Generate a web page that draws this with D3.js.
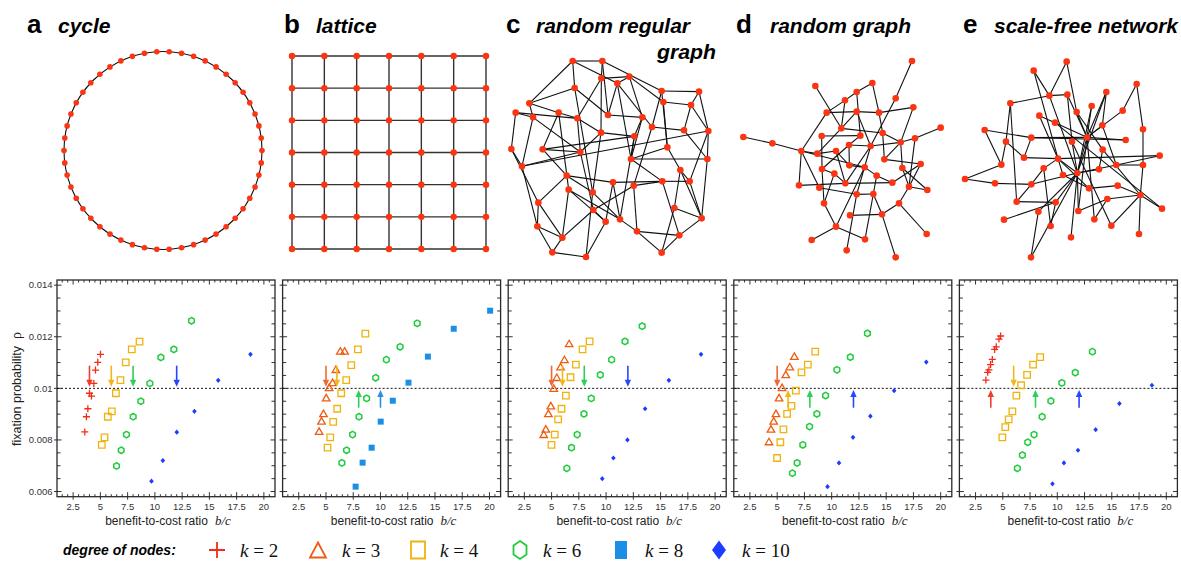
<!DOCTYPE html>
<html><head><meta charset="utf-8">
<script src="https://cdn.jsdelivr.net/npm/d3@7"></script>
<style>body{margin:0;background:#fff}svg{display:block}</style>
</head><body><svg id="chart" width="1181" height="562"></svg>
<script>
// ---------------- DATA ----------------
const panelLetters = ["a","b","c","d","e"];
const panelNames = ["cycle","lattice","random regular","random graph","scale-free network"];
const xTicks = [2.5,5,7.5,10,12.5,15,17.5,20];
const xTickLabels = ["2.5","5","7.5","10","12.5","15","17.5","20"];
const yTicks = [0.006,0.008,0.01,0.012,0.014];
const yTickLabels = ["0.006","0.008","0.01","0.012","0.014"];
const legendKeys = ["k2","k3","k4","k6","k8","k10"];
const legendLabels = ["2","3","4","6","8","10"];

// fixation probability vs b/c, per panel and degree k
const cycle_k2 = [[5.01,0.01132],[4.76,0.01101],[4.55,0.01071],[4.40,0.01019],[4.0,0.00981],[4.18,0.00970],[3.85,0.00921],[3.72,0.00890],[3.57,0.00831]];
const cycle_k4 = [[8.59,0.01181],[7.88,0.01151],[7.33,0.01101],[6.84,0.01032],[6.42,0.00981],[6.05,0.00911],[5.68,0.00890],[5.38,0.00810],[5.13,0.00781]];
const cycle_k6 = [[13.36,0.01262],[11.74,0.01151],[10.55,0.01120],[9.54,0.01019],[8.71,0.00950],[8.01,0.00890],[7.39,0.00821],[6.91,0.00760],[6.48,0.00699]];
const cycle_k10 = [[18.77,0.01132],[15.81,0.01031],[13.63,0.00911],[12.01,0.00830],[10.73,0.00720],[9.69,0.00640]];

const lattice_k3 = [[6.31,0.01145],[6.71,0.01145],[5.91,0.01074],[5.60,0.01023],[5.29,0.01004],[5.02,0.00964],[4.77,0.00903],[4.59,0.00874],[4.37,0.00834]];
const lattice_k4 = [[8.61,0.01212],[7.93,0.01151],[7.32,0.01090],[6.86,0.01032],[6.40,0.00981],[6.03,0.00921],[5.66,0.00870],[5.39,0.00810],[5.14,0.00770]];
const lattice_k6 = [[13.37,0.01252],[11.80,0.01161],[10.54,0.01111],[9.56,0.01041],[8.73,0.00961],[8.03,0.00890],[7.44,0.00821],[6.89,0.00760],[6.46,0.00711]];
const lattice_k8 = [[20.06,0.01301],[16.72,0.01231],[14.35,0.01123],[12.57,0.01022],[11.13,0.00952],[10.02,0.00871],[9.19,0.00770],[8.36,0.00712],[7.72,0.00619]];

const rrg_k3 = [[6.61,0.01174],[6.18,0.01112],[5.82,0.01084],[5.48,0.01043],[5.20,0.01001],[4.93,0.00933],[4.71,0.00903],[4.47,0.00843],[4.28,0.00822]];
const rrg_k4 = [[8.49,0.01182],[7.84,0.01151],[7.23,0.01092],[6.74,0.01043],[6.31,0.00972],[5.91,0.00921],[5.60,0.00880],[5.29,0.00821],[4.99,0.00781]];
const rrg_k6 = [[13.31,0.01241],[11.74,0.01182],[10.51,0.01111],[9.47,0.01052],[8.64,0.00961],[7.97,0.00901],[7.35,0.00821],[6.83,0.00770],[6.40,0.00690]];
const rrg_k10 = [[18.71,0.01132],[15.76,0.01031],[13.58,0.00921],[11.96,0.00800],[10.67,0.00730],[9.65,0.00650]];

const rg_k3 = [[6.58,0.01125],[6.15,0.01084],[5.79,0.01054],[5.45,0.01004],[5.17,0.00964],[4.89,0.00903],[4.68,0.00874],[4.43,0.00843],[4.25,0.00794]];
const rg_k4 = [[8.49,0.01142],[7.81,0.01092],[7.23,0.01062],[6.71,0.00991],[6.31,0.00932],[5.91,0.00901],[5.57,0.00841],[5.29,0.00791],[4.99,0.00730]];
const rg_k6 = [[13.28,0.01213],[11.71,0.01121],[10.48,0.01072],[9.44,0.00972],[8.64,0.00901],[7.97,0.00852],[7.35,0.00781],[6.83,0.00711],[6.40,0.00671]];
const rg_k10 = [[18.68,0.01102],[15.73,0.00991],[13.55,0.00892],[11.96,0.00810],[10.67,0.00711],[9.62,0.00619]];

const sf_k2 = [[4.80,0.01203],[4.65,0.01191],[4.40,0.01161],[4.25,0.01151],[4.04,0.01112],[3.88,0.01092],[3.73,0.01072],[3.61,0.01062],[3.45,0.01032]];
const sf_k4 = [[8.43,0.01121],[7.78,0.01092],[7.23,0.01052],[6.68,0.01012],[6.25,0.00972],[5.88,0.00911],[5.54,0.00880],[5.23,0.00850],[4.96,0.00810]];
const sf_k6 = [[13.22,0.01142],[11.65,0.01061],[10.42,0.01021],[9.41,0.00951],[8.61,0.00890],[7.87,0.00821],[7.29,0.00791],[6.80,0.00741],[6.34,0.00690]];
const sf_k10 = [[18.68,0.01012],[15.70,0.00941],[13.52,0.00840],[11.90,0.00760],[10.61,0.00711],[9.56,0.00630]];

// critical b/c arrows: [b/c, direction, series]
const cycle_arrows = [[4,"down","k2"],[6,"down","k4"],[8,"down","k6"],[12,"down","k10"]];
const lattice_arrows = [[5,"down","k3"],[6,"down","k4"],[8,"up","k6"],[10,"up","k8"]];
const rrg_arrows = [[5,"down","k3"],[6,"down","k4"],[8,"down","k6"],[12,"down","k10"]];
const rg_arrows = [[5,"down","k3"],[6,"up","k4"],[8,"up","k6"],[12,"up","k10"]];
const sf_arrows = [[3.9,"up","k2"],[6,"down","k4"],[8,"up","k6"],[12,"up","k10"]];

// network drawings (layout units)
const cycleN = 50;
const latticeN = 7;
const rrgNodes = [[233,3],[322,3],[319,55],[403,50],[367,70],[239,84],[500,93],[612,95],[505,126],[588,135],[103,130],[62,158],[114,172],[191,158],[247,175],[339,165],[442,172],[471,201],[567,211],[640,213],[318,218],[418,229],[49,267],[143,268],[256,276],[517,262],[408,297],[637,297],[81,319],[556,330],[215,347],[354,367],[416,377],[502,364],[584,364],[221,389],[293,397],[130,428],[538,444],[295,450],[620,475],[375,478],[332,485],[127,499],[426,514],[553,526],[202,533],[172,577],[273,591],[500,578]];
const rrgEdges = [[0,1],[0,4],[0,10],[1,6],[1,2],[2,14],[2,3],[3,8],[3,16],[4,15],[4,26],[5,10],[5,36],[5,15],[6,7],[6,17],[7,9],[7,19],[8,9],[8,25],[9,18],[10,12],[11,12],[11,14],[11,22],[12,28],[13,14],[13,23],[13,35],[15,16],[16,21],[17,18],[17,32],[18,27],[19,27],[19,34],[20,21],[20,24],[20,36],[21,41],[22,28],[22,37],[23,24],[23,30],[24,39],[25,26],[25,29],[26,27],[28,43],[29,34],[29,38],[30,31],[30,37],[31,33],[31,42],[32,39],[32,44],[33,34],[33,45],[35,41],[35,46],[36,48],[37,43],[38,40],[38,49],[40,45],[40,27],[41,44],[42,48],[43,47],[44,49],[45,49],[46,47],[47,48],[39,42],[14,24],[21,26],
  [0,5],[1,15],[3,4],[4,17],[2,20],[6,25],[10,13],[12,24],[14,20],[23,21],[28,24],[30,36],[31,41],[32,33],[34,40],[35,42],[36,41],[37,46],[39,46],[43,46],[44,45],[26,33],[29,40],[19,28],[9,19],[16,26]];
const rgNodes = [[546,33],[256,108],[427,99],[380,126],[497,145],[345,151],[550,172],[290,188],[380,185],[447,188],[632,233],[334,235],[458,249],[40,261],[127,280],[275,258],[391,257],[555,265],[512,277],[214,303],[422,288],[357,285],[262,311],[318,303],[463,328],[572,342],[276,357],[358,346],[404,352],[517,354],[313,371],[440,377],[207,406],[268,413],[346,400],[487,398],[537,410],[592,420],[380,433],[430,432],[282,460],[507,460],[360,496],[456,493],[318,530],[590,552],[245,570],[405,568],[350,601],[497,622]];
const rgEdges = [[0,4],[4,20],[1,11],[2,3],[2,9],[3,5],[3,16],[5,7],[5,11],[7,8],[7,19],[8,9],[8,11],[8,20],[9,12],[6,18],[6,9],[10,17],[11,12],[11,22],[12,18],[13,14],[14,19],[15,16],[15,26],[17,18],[17,36],[18,20],[18,29],[18,24],[19,22],[19,32],[19,33],[19,28],[20,21],[20,38],[20,34],[21,27],[21,26],[22,23],[23,27],[23,34],[24,25],[25,35],[26,30],[26,40],[27,28],[28,31],[28,44],[29,36],[30,34],[31,35],[31,39],[32,34],[33,38],[34,35],[36,37],[36,41],[25,36],[38,39],[38,48],[39,43],[39,47],[40,44],[41,45],[41,43],[42,43],[43,49],[44,46],[44,47],[16,21],[12,24],[30,40],[29,37]];
const sfNodes = [[335,35],[236,62],[283,137],[337,134],[545,102],[454,126],[166,160],[410,168],[365,186],[503,182],[253,197],[300,218],[442,226],[564,238],[89,240],[229,263],[396,262],[512,270],[153,275],[351,275],[443,299],[614,317],[207,323],[309,326],[139,344],[484,345],[564,345],[266,355],[432,358],[367,369],[324,375],[30,387],[120,400],[229,403],[402,415],[488,407],[556,435],[457,447],[185,455],[302,457],[250,485],[370,483],[621,476],[147,509],[287,528],[418,508],[469,527],[552,552],[348,562],[228,622]];
const sfEdges = [[0,2],[0,8],[1,2],[1,23],[2,3],[2,6],[2,29],[3,16],[4,9],[4,13],[5,12],[5,29],[5,16],[6,18],[7,16],[7,29],[8,16],[8,20],[9,16],[10,11],[10,23],[11,16],[12,16],[12,25],[13,26],[14,15],[14,24],[15,16],[15,22],[16,17],[16,29],[16,45],[18,22],[18,24],[19,29],[20,28],[20,36],[21,25],[21,23],[22,23],[23,29],[23,30],[23,27],[11,42],[25,26],[25,29],[26,36],[27,33],[27,44],[28,29],[29,33],[29,39],[29,40],[29,48],[29,49],[29,41],[30,34],[31,32],[31,24],[32,33],[33,38],[34,35],[35,36],[36,37],[36,42],[36,46],[36,47],[37,41],[38,39],[39,44],[40,49],[43,39],[45,37],[3,19],[15,17],[6,38],[16,41],[19,46],[23,34]];

// ---------------- STYLE / LAYOUT ----------------
const colors = {k2:"#f42b17",k3:"#ee5c12",k4:"#f0b20c",k6:"#20cc3e",k8:"#1a8fe3",k10:"#1c3cff"};
const arrowColors = {k2:"#ee3d2d",k3:"#ee6a3a",k4:"#f1b61c",k6:"#2ecf58",k8:"#2a8fe6",k10:"#2547ff"};
const nodeColor = "#fb3413";

const svg = d3.select("#chart");

// ---------- titles ----------
const titleX = [27,284,506,736,963];
const nameX = [58,316,536,770,994];
const sans = "Liberation Sans, Arial, sans-serif";
const serif = "Liberation Serif, Times New Roman, serif";
panelLetters.forEach((l,i)=>{
  svg.append("text").attr("x",titleX[i]).attr("y",33).text(l)
    .attr("font-family",sans).attr("font-weight","bold").attr("font-size",26);
});
function nameText(x,y,txt,len){
  const t = svg.append("text").attr("x",x).attr("y",y).text(txt)
    .attr("font-family",sans).attr("font-weight","bold").attr("font-style","italic").attr("font-size",21);
  if(len) t.attr("textLength",len).attr("lengthAdjust","spacingAndGlyphs");
}
nameText(nameX[0],33,"cycle",null);
nameText(nameX[1],33,"lattice",null);
nameText(nameX[2],33,"random regular",154);
nameText(657,59,"graph",59);
nameText(nameX[3],33,"random graph",141);
nameText(nameX[4],33,"scale-free network",184);

// ---------- cycle ----------
{
  const g = svg.append("g");
  const ang = d3.scaleLinear().domain([0,cycleN]).range([-Math.PI/2 + Math.PI/cycleN, 1.5*Math.PI + Math.PI/cycleN]);
  const cx = 163, cy = 150.5, r = 99;
  g.append("circle").attr("cx",cx).attr("cy",cy).attr("r",r).attr("fill","none").attr("stroke","#111").attr("stroke-width",1.1);
  g.selectAll("circle.n").data(d3.range(cycleN)).join("circle").attr("class","n")
    .attr("cx",i=>cx + r*Math.cos(ang(i))).attr("cy",i=>cy + r*Math.sin(ang(i))).attr("r",2.8).attr("fill",nodeColor);
}
// ---------- lattice ----------
{
  const g = svg.append("g");
  const lx = d3.scaleLinear().domain([0,latticeN-1]).range([292,486]);
  const ly = d3.scaleLinear().domain([0,latticeN-1]).range([56,249]);
  d3.range(latticeN).forEach(i=>{
    g.append("line").attr("x1",lx(0)).attr("x2",lx(latticeN-1)).attr("y1",ly(i)).attr("y2",ly(i)).attr("stroke","#333").attr("stroke-width",1.4);
    g.append("line").attr("y1",ly(0)).attr("y2",ly(latticeN-1)).attr("x1",lx(i)).attr("x2",lx(i)).attr("stroke","#333").attr("stroke-width",1.4);
  });
  const pts = d3.cross(d3.range(latticeN), d3.range(latticeN));
  g.selectAll("circle").data(pts).join("circle").attr("cx",d=>lx(d[0])).attr("cy",d=>ly(d[1])).attr("r",3.2).attr("fill",nodeColor);
}
// ---------- networks ----------
function drawNet(nodes, edges, dom, rng, nr){
  const g = svg.append("g");
  const sx = d3.scaleLinear().domain([0,dom[0]]).range([rng[0],rng[1]]);
  const sy = d3.scaleLinear().domain([0,dom[1]]).range([rng[2],rng[3]]);
  g.selectAll("line").data(edges).join("line")
    .attr("x1",e=>sx(nodes[e[0]][0])).attr("y1",e=>sy(nodes[e[0]][1]))
    .attr("x2",e=>sx(nodes[e[1]][0])).attr("y2",e=>sy(nodes[e[1]][1]))
    .attr("stroke","#111").attr("stroke-width",1.1);
  g.selectAll("circle").data(nodes).join("circle").attr("cx",d=>sx(d[0])).attr("cy",d=>sy(d[1])).attr("r",nr).attr("fill",nodeColor);
}
drawNet(rrgNodes, rrgEdges, [690,630], [495,725,60,270], 3.3);
drawNet(rgNodes, rgEdges, [660,660], [730,950,50,270], 3.3);
drawNet(sfNodes, sfEdges, [678,660], [955,1181,50,270], 3.3);

// ---------- marker paths ----------
function markerPath(key, w, h){
  const a = w/2, b = h/2;
  switch(key){
    case "k2": return `M${-a},0H${a}M0,${-b}V${b}`;
    case "k3": return `M0,${-b}L${a},${b}L${-a},${b}Z`;
    case "k4": return `M${-a},${-b}H${a}V${b}H${-a}Z`;
    case "k6": { let p=""; for(let i=0;i<6;i++){const t=-Math.PI/2+i*Math.PI/3; p+=(i?"L":"M")+(a*Math.cos(t)).toFixed(2)+","+(b*Math.sin(t)).toFixed(2);} return p+"Z"; }
    case "k8": return `M${-a},${-b}H${a}V${b}H${-a}Z`;
    case "k10": return `M0,${-b}L${a},0L0,${b}L${-a},0Z`;
  }
}
const filled = {k2:false,k3:false,k4:false,k6:false,k8:true,k10:true};
const mSize = {k2:[7,7],k3:[7.5,6.5],k4:[6.5,6.5],k6:[6.5,6.5],k8:[6,6],k10:[4.6,5.2]};

// ---------- scatter panels ----------
const panelSeries = [
  {k2:cycle_k2,k4:cycle_k4,k6:cycle_k6,k10:cycle_k10},
  {k3:lattice_k3,k4:lattice_k4,k6:lattice_k6,k8:lattice_k8},
  {k3:rrg_k3,k4:rrg_k4,k6:rrg_k6,k10:rrg_k10},
  {k3:rg_k3,k4:rg_k4,k6:rg_k6,k10:rg_k10},
  {k2:sf_k2,k4:sf_k4,k6:sf_k6,k10:sf_k10}
];
const panelArrows = [cycle_arrows,lattice_arrows,rrg_arrows,rg_arrows,sf_arrows];

const pTop = 280, pBot = 496.7, pW = 218;
const yScale = d3.scaleLinear().domain([0.0058,0.0142]).range([pBot,pTop]);

panelSeries.forEach((series,pi)=>{
  const left = 57 + pi*225.6;
  const x = d3.scaleLinear().domain([1.02,21.02]).range([left,left+pW]);
  const g = svg.append("g");
  // ticks
  const yMinor = d3.range(0.006,0.01401,0.0005);
  yMinor.forEach(v=>{
    const major = Math.abs(Math.round(v*1e4)%20)<0.5;
    const yy = yScale(v);
    g.append("line").attr("x1",left-(major?3:0)).attr("x2",left+(major?4.5:3.5)).attr("y1",yy).attr("y2",yy).attr("stroke","#333").attr("stroke-width",1);
    g.append("line").attr("x1",left+pW).attr("x2",left+pW-(major?4.5:3.5)).attr("y1",yy).attr("y2",yy).attr("stroke","#333").attr("stroke-width",1);
  });
  const xMinor = d3.range(1.5,21,0.5);
  xMinor.forEach(v=>{
    const major = Math.abs(v/2.5-Math.round(v/2.5))<1e-6;
    const xx = x(v);
    g.append("line").attr("x1",xx).attr("x2",xx).attr("y1",pBot+(major?3:0)).attr("y2",pBot-(major?4.5:2.5)).attr("stroke","#333").attr("stroke-width",1);
    g.append("line").attr("x1",xx).attr("x2",xx).attr("y1",pTop).attr("y2",pTop+(major?4.5:2.5)).attr("stroke","#333").attr("stroke-width",1);
  });
  // frame
  g.append("rect").attr("x",left).attr("y",pTop).attr("width",pW).attr("height",pBot-pTop)
    .attr("fill","none").attr("stroke","#2a2a2a").attr("stroke-width",1.3);
  // x tick labels
  xTicks.forEach((v,i)=>{
    g.append("text").attr("x",x(v)).attr("y",509.5).attr("text-anchor","middle").text(xTickLabels[i])
      .attr("font-family",sans).attr("font-size",9.5).attr("fill","#333");
  });
  // x title
  const xt = g.append("text").attr("x",left+pW/2+2).attr("y",524.5).attr("text-anchor","middle")
    .attr("font-family",sans).attr("font-size",12).attr("fill","#222");
  xt.append("tspan").text("benefit-to-cost ratio");
  xt.append("tspan").text("b/c").attr("dx",7).attr("font-family",serif).attr("font-style","italic").attr("font-size",13);
  // y labels on first panel
  if(pi===0){
    yTicks.forEach((v,i)=>{
      g.append("text").attr("x",52.5).attr("y",yScale(v)+3.3).attr("text-anchor","end").text(yTickLabels[i])
        .attr("font-family",sans).attr("font-size",9.5).attr("fill","#333");
    });
    const yt = g.append("text").attr("transform","translate(21,389) rotate(-90)").attr("text-anchor","middle")
      .attr("font-family",sans).attr("font-size",12.5).attr("fill","#222");
    yt.append("tspan").text("fixation probability");
    yt.append("tspan").text("ρ").attr("dx",7).attr("font-family",serif).attr("font-size",14);
  }
  // dotted line at 0.01
  g.append("line").attr("x1",left).attr("x2",left+pW).attr("y1",yScale(0.01)).attr("y2",yScale(0.01))
    .attr("stroke","#111").attr("stroke-width",1).attr("stroke-dasharray","2,2");
  // points
  Object.entries(series).forEach(([key,data])=>{
    const [mw,mh] = mSize[key];
    g.selectAll(null).data(data).join("path")
      .attr("transform",d=>`translate(${x(d[0])},${yScale(d[1])})`)
      .attr("d",markerPath(key,mw,mh))
      .attr("fill",filled[key]?colors[key]:"none")
      .attr("stroke",filled[key]?"none":colors[key])
      .attr("stroke-width",key==="k6"?1.5:1.3);
  });
  // arrows
  panelArrows[pi].forEach(([bc,dir,key])=>{
    const xx = x(bc);
    const y0 = dir==="down"? yScale(0.01088) : yScale(0.00925);
    const y1 = dir==="down"? yScale(0.01006) : yScale(0.00994);
    const s = dir==="down"? 1 : -1;
    const c = arrowColors[key];
    g.append("line").attr("x1",xx).attr("x2",xx).attr("y1",y0).attr("y2",y1 - s*5).attr("stroke",c).attr("stroke-width",1.6);
    g.append("path").attr("d",`M${xx},${y1}L${xx-3.2},${y1-s*7}L${xx+3.2},${y1-s*7}Z`).attr("fill",c);
  });
});

// ---------- legend ----------
const legMarkX = [217,318,418,520,621,719];
const legTextX = [240,342,440,543,645,742];
const legSize = {k2:[16,16],k3:[16,15],k4:[14,17],k6:[15,18],k8:[12,18],k10:[14,19]};
svg.append("text").attr("x",63).attr("y",555).text("degree of nodes:")
  .attr("font-family",sans).attr("font-weight","bold").attr("font-style","italic").attr("font-size",14);
legendKeys.forEach((key,i)=>{
  const [mw,mh] = legSize[key];
  svg.append("path").attr("transform",`translate(${legMarkX[i]},550)`).attr("d",markerPath(key,mw,mh))
    .attr("fill",filled[key]?colors[key]:"none").attr("stroke",filled[key]?"none":colors[key]).attr("stroke-width",1.8);
  const t = svg.append("text").attr("x",legTextX[i]).attr("y",557).attr("font-family",serif).attr("font-size",19).attr("fill","#111");
  t.append("tspan").text("k").attr("font-style","italic");
  t.append("tspan").text(" = " + legendLabels[i]);
});
</script></body></html>
